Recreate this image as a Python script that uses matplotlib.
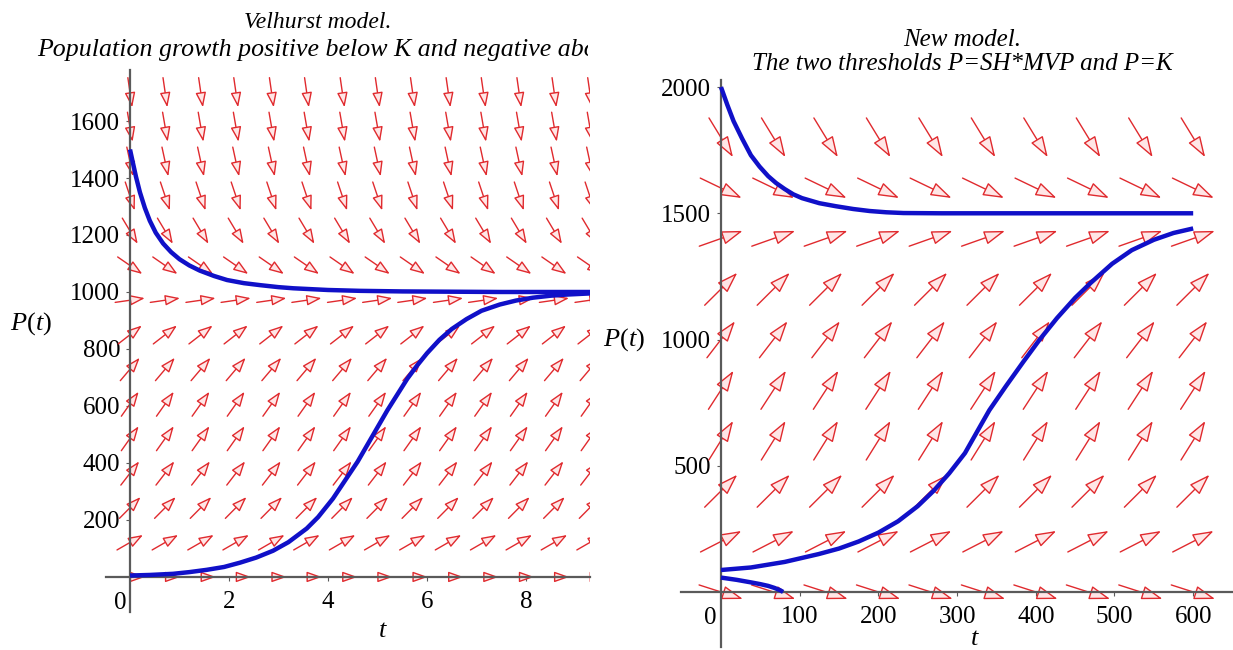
import numpy as np
import matplotlib.pyplot as plt
from matplotlib.patches import FancyArrowPatch

plt.rcParams['font.family'] = ['Liberation Serif', 'DejaVu Serif']
plt.rcParams['mathtext.fontset'] = 'custom'
plt.rcParams['mathtext.rm'] = 'Liberation Serif'
plt.rcParams['mathtext.it'] = 'Liberation Serif:italic'

# ---- left panel: Verhulst direction field ----
left_t_grid = [0, 0.71, 1.43, 2.14, 2.86, 3.57, 4.29, 5.0, 5.71, 6.43, 7.14, 7.86, 8.57, 9.29]
left_p_grid = [0, 121, 243, 364, 486, 607, 729, 850, 971, 1093, 1214, 1336, 1457, 1579, 1700]
left_dpdt = [0, 100, 175, 225, 245, 245, 205, 135, 25, -120, -290, -520, -800, -1000, -1200]

left_upper_t = [0, 0.05, 0.12, 0.2, 0.3, 0.4, 0.52, 0.67, 0.83, 1.0, 1.2, 1.41, 1.7, 1.96,
                2.3, 2.63, 3.0, 3.3, 4.0, 4.65, 5.5, 6.5, 7.5, 8.5, 9.3]
left_upper_p = [1500, 1460, 1405, 1350, 1295, 1250, 1208, 1170, 1140, 1115, 1093, 1075, 1056, 1042,
                1031, 1024, 1017, 1013, 1007, 1004, 1002, 1001, 1000, 1000, 1000]
left_lower_t = [0, 0.4, 0.87, 1.2, 1.55, 1.9, 2.22, 2.55, 2.89, 3.2, 3.57, 3.8, 4.1, 4.35,
                4.6, 4.8, 5.0, 5.2, 5.4, 5.6, 5.8, 6.0, 6.25, 6.5, 6.8, 7.1, 7.47, 7.8,
                8.14, 8.5, 8.83, 9.3]
left_lower_p = [5, 7, 11, 17, 25, 35, 50, 68, 92, 122, 170, 210, 275, 340,
                405, 465, 525, 585, 640, 695, 742, 785, 832, 870, 905, 934, 956, 970,
                980, 987, 991, 995]

# ---- right panel: new model direction field ----
right_t_grid = [0, 66.7, 133.3, 200, 266.7, 333.3, 400, 466.7, 533.3, 600]
right_p_grid = [0, 200, 400, 600, 800, 1000, 1200, 1400, 1600, 1800]
right_dpdt = [-1.0, 1.6, 3.1, 5.0, 4.8, 4.05, 3.1, 1.1, -1.5, -5.1]

right_upper_t = [0, 8, 16, 27, 38, 49, 60, 70, 81, 92, 103, 125, 146, 168, 189, 210, 232, 280, 350, 450, 600]
right_upper_p = [2000, 1930, 1865, 1795, 1730, 1685, 1647, 1620, 1596, 1575, 1560, 1540, 1528, 1517, 1509,
                 1504, 1501, 1500, 1500, 1500, 1500]
right_mid_t = [0, 38, 81, 124, 150, 175, 200, 225, 250, 270, 290, 310, 330, 341, 362, 384,
               405, 427, 450, 470, 497, 522, 550, 575, 600]
right_mid_p = [87, 97, 119, 150, 172, 200, 235, 280, 340, 400, 470, 550, 660, 720, 815, 911,
               1000, 1085, 1165, 1225, 1300, 1354, 1395, 1422, 1440]
right_low_t = [0, 20, 38, 50, 60, 68, 75, 79]
right_low_p = [57, 48, 38, 31, 24, 16, 7, 0]

W, H = 1233, 650
fig = plt.figure(figsize=(W / 100, H / 100), dpi=100)

ARROW_RED = '#e02a2e'
ARROW_FILL = '#ffe6e6'
CURVE_BLUE = '#1010c8'
AXIS_GREY = '#5a5a5a'
TICK_SIZE = 18


def make_axes(px_left, px_right, px_top, px_bottom, xlim, ylim):
    ax = fig.add_axes([px_left / W, (H - px_bottom) / H,
                       (px_right - px_left) / W, (px_bottom - px_top) / H])
    ax.set_xlim(*xlim)
    ax.set_ylim(*ylim)
    ax.spines['left'].set_position(('data', 0))
    ax.spines['bottom'].set_position(('data', 0))
    ax.spines['top'].set_visible(False)
    ax.spines['right'].set_visible(False)
    for s in ('left', 'bottom'):
        ax.spines[s].set_color(AXIS_GREY)
        ax.spines[s].set_linewidth(1.6)
    ax.tick_params(direction='out', length=3, width=0.8, color=AXIS_GREY, labelsize=TICK_SIZE)
    ax.patch.set_alpha(0)
    return ax


def draw_field(ax, t_grid, p_grid, dpdt, length_px, head):
    bbox = ax.get_window_extent()
    x0, x1 = ax.get_xlim()
    y0, y1 = ax.get_ylim()
    sx = bbox.width / (x1 - x0)
    sy = bbox.height / (y1 - y0)
    for p, d in zip(p_grid, dpdt):
        vx, vy = sx, d * sy
        n = np.hypot(vx, vy)
        dx = vx / n * length_px / 2 / sx
        dy = vy / n * length_px / 2 / sy
        for t in t_grid:
            arr = FancyArrowPatch((t - dx, p - dy), (t + dx, p + dy),
                                  arrowstyle=head, mutation_scale=1,
                                  shrinkA=0, shrinkB=0, lw=1.0,
                                  edgecolor=ARROW_RED, facecolor=ARROW_FILL, zorder=2)
            ax.add_patch(arr)


# left panel
axL = make_axes(106, 590, 70, 612, (-0.485, 9.293), (-123, 1779))
draw_field(axL, left_t_grid, left_p_grid, left_dpdt, 30, '-|>,head_length=9,head_width=3.2')
axL.plot(left_upper_t, left_upper_p, color=CURVE_BLUE, lw=3.2, zorder=3, solid_capstyle='butt')
axL.plot(left_lower_t, left_lower_p, color=CURVE_BLUE, lw=3.2, zorder=3, solid_capstyle='butt')
axL.set_xticks([2, 4, 6, 8])
axL.set_yticks([200, 400, 600, 800, 1000, 1200, 1400, 1600])
axL.tick_params(axis='x', pad=7)
axL.tick_params(axis='y', pad=4)
axL.text(-0.2, -92, '0', fontsize=TICK_SIZE, ha='center', va='center')
axL.text(5.1, -190, r'$t$', fontsize=19, ha='center', va='center', clip_on=False)
axL.text(-2.0, 890, r'$P(t)$', fontsize=19, ha='center', va='center', clip_on=False)

# titles of the left panel are cut off at the panel edge
capL = fig.add_axes([0, 0, 588 / W, 1])
capL.set_axis_off()
capL.set_xlim(0, 588)
capL.set_ylim(H, 0)
capL.text(318, 22, 'Velhurst model.', fontsize=17, style='italic', ha='center', va='center')
capL.text(37, 50, 'Population growth positive below K and negative above K',
          fontsize=18.6, style='italic', ha='left', va='center', clip_on=True)

# right panel
axR = make_axes(681, 1233, 80, 647, (-50.8, 650.6), (-218, 2028))
draw_field(axR, right_t_grid, right_p_grid, right_dpdt, 46, '-|>,head_length=13,head_width=4.3')
axR.plot(right_upper_t, right_upper_p, color=CURVE_BLUE, lw=3.2, zorder=3, solid_capstyle='butt')
axR.plot(right_mid_t, right_mid_p, color=CURVE_BLUE, lw=3.2, zorder=3, solid_capstyle='butt')
axR.plot(right_low_t, right_low_p, color=CURVE_BLUE, lw=3.2, zorder=3, solid_capstyle='butt')
axR.set_xticks([100, 200, 300, 400, 500, 600])
axR.set_yticks([500, 1000, 1500, 2000])
axR.tick_params(axis='x', pad=7)
axR.tick_params(axis='y', pad=4)
axR.text(-14, -105, '0', fontsize=TICK_SIZE, ha='center', va='center')
axR.text(323, -185, r'$t$', fontsize=19, ha='center', va='center', clip_on=False)
axR.text(-123, 1000, r'$P(t)$', fontsize=19, ha='center', va='center', clip_on=False)
fig.text(962 / W, 1 - 40 / H, 'New model.', fontsize=18, style='italic', ha='center', va='center')
fig.text(962 / W, 1 - 64 / H, 'The two thresholds P=SH*MVP and P=K', fontsize=18,
         style='italic', ha='center', va='center')

fig.savefig('out.png', dpi=100)
